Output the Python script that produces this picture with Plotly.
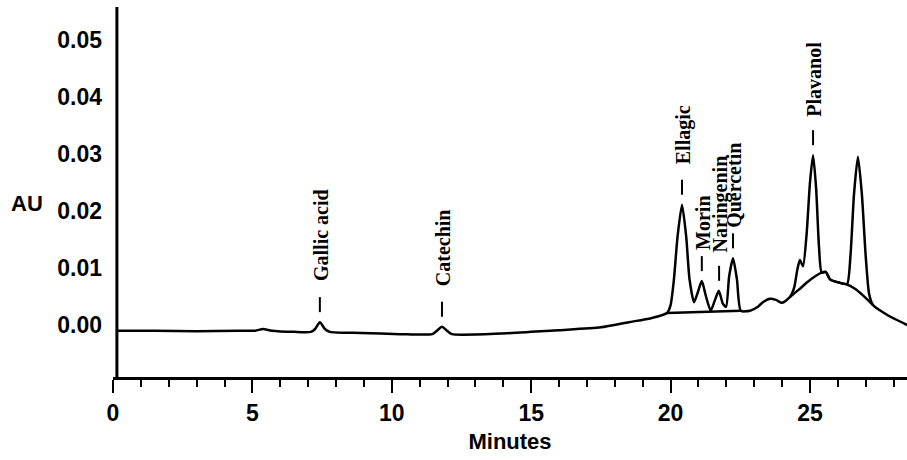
import plotly.graph_objects as go

# ---- data ----
time_min = [0.14, 1.5, 3.0, 4.5, 5.1, 5.38, 5.7, 6.5, 7.1, 7.25, 7.42, 7.6, 7.78,
            8.9, 10.3, 11.45, 11.62, 11.80, 11.98, 12.16, 13.9, 15.0, 16.0, 17.5,
            18.5, 19.3, 19.87, 20.0, 20.12, 20.25, 20.41, 20.56, 20.68, 20.84,
            20.98, 21.12, 21.27, 21.44, 21.6, 21.73, 21.87, 21.99, 22.1, 22.24,
            22.38, 22.52, 22.85, 23.13, 23.31, 23.57, 23.78, 24.0, 24.28, 24.43,
            24.55, 24.64, 24.75, 24.88, 25.0, 25.11, 25.22, 25.32, 25.42, 25.57,
            25.72, 26.07, 26.33, 26.45, 26.58, 26.72, 26.86, 27.0, 27.12, 27.26,
            27.76, 28.48]
au = [-0.0010, -0.0010, -0.0011, -0.0010, -0.0010, -0.0007, -0.0010, -0.0012,
      -0.0012, -0.0007, 0.0005, -0.0007, -0.0012, -0.0014, -0.0016, -0.0016,
      -0.0010, -0.0003, -0.0010, -0.0016, -0.0015, -0.0012, -0.0009, -0.0004,
      0.0005, 0.0012, 0.0021, 0.0035, 0.0080, 0.0155, 0.0211, 0.0155, 0.0080,
      0.0040, 0.0058, 0.0077, 0.0050, 0.0025, 0.0045, 0.0060, 0.0038, 0.0032,
      0.0085, 0.0117, 0.0080, 0.0025, 0.0025, 0.0032, 0.0040, 0.0046, 0.0044,
      0.0039, 0.0049, 0.0065, 0.0098, 0.0114, 0.0103, 0.0160, 0.0250, 0.0298,
      0.0240, 0.0140, 0.0092, 0.0093, 0.0080, 0.0074, 0.0072, 0.0120, 0.0230,
      0.0295, 0.0230, 0.0120, 0.0055, 0.0035, 0.0018, 0.0000]

# integration baselines
group_base_time = [19.87, 22.52]
group_base_au = [0.0021, 0.0025]
hump_time = [24.28, 24.6, 24.9, 25.2, 25.42, 25.57, 25.72, 26.07, 26.33, 26.6, 26.9, 27.26]
hump_au = [0.0049, 0.0062, 0.0075, 0.0086, 0.0092, 0.0093, 0.0080, 0.0074, 0.0071, 0.0064, 0.0052, 0.0035]

peak_names = ["Gallic acid", "Catechin", "Ellagic", "Morin", "Naringenin", "Quercetin", "Plavanol"]
peak_times = [7.42, 11.80, 20.41, 21.12, 21.74, 22.24, 25.11]
peak_au = [0.0005, -0.0003, 0.0211, 0.0077, 0.0060, 0.0117, 0.0298]
label_gap_px = [39, 39, 38, 29, 36, 28, 36]

x_tick_vals = [0, 5, 10, 15, 20, 25]
y_tick_vals = [0.0, 0.01, 0.02, 0.03, 0.04, 0.05]
y_tick_text = ["0.00", "0.01", "0.02", "0.03", "0.04", "0.05"]

fig = go.Figure()
fig.add_trace(go.Scatter(x=time_min, y=au, mode="lines",
                         line=dict(color="black", width=2.5, shape="spline", smoothing=0.6),
                         hoverinfo="skip", showlegend=False))
fig.add_trace(go.Scatter(x=group_base_time, y=group_base_au, mode="lines",
                         line=dict(color="black", width=2.5), hoverinfo="skip", showlegend=False))
fig.add_trace(go.Scatter(x=hump_time, y=hump_au, mode="lines",
                         line=dict(color="black", width=2.5, shape="spline", smoothing=0.6),
                         hoverinfo="skip", showlegend=False))

label_font = dict(family="Liberation Serif", size=20, color="black", weight="bold")
for name, t, a, gap in zip(peak_names, peak_times, peak_au, label_gap_px):
    fig.add_annotation(x=t, y=a, xref="x", yref="y", text=name, showarrow=False,
                       textangle=-90, xanchor="center", yanchor="bottom",
                       yshift=gap, xshift=1, font=label_font)
    fig.add_shape(type="line", xref="x", yref="y", ysizemode="pixel", yanchor=a,
                  x0=t, x1=t, y0=10, y1=25, line=dict(color="black", width=2))

# y-axis line
fig.add_shape(type="line", xref="x", yref="paper", x0=0.14, x1=0.14, y0=0, y1=1,
              line=dict(color="black", width=3))

tick_font = dict(family="Liberation Sans", size=23, color="black", weight="bold")
fig.add_annotation(text="AU", xref="paper", yref="paper", x=-0.108, y=0.468,
                   xanchor="center", yanchor="middle", showarrow=False,
                   font=dict(family="Liberation Sans", size=22, color="black", weight="bold"))

fig.update_layout(
    width=907, height=460,
    margin=dict(l=113, r=0, t=7, b=83),
    paper_bgcolor="white", plot_bgcolor="white",
    xaxis=dict(range=[0, 28.48], tickvals=x_tick_vals, ticks="outside", ticklen=13,
               tickwidth=2, tickcolor="black", showline=True, linecolor="black",
               linewidth=3, showgrid=False, zeroline=False, tickfont=tick_font,
               minor=dict(dtick=1, ticks="outside", ticklen=7, tickwidth=2,
                          tickcolor="black", showgrid=False),
               title=dict(text="Minutes",
                          font=dict(family="Liberation Sans", size=22, color="black", weight="bold"),
                          standoff=10)),
    yaxis=dict(range=[-0.00912, 0.05579], tickvals=y_tick_vals, ticktext=y_tick_text,
               ticks="", showline=False, showgrid=False, zeroline=False,
               tickfont=tick_font, ticklabelstandoff=10),
)

fig.write_html("out.html")
